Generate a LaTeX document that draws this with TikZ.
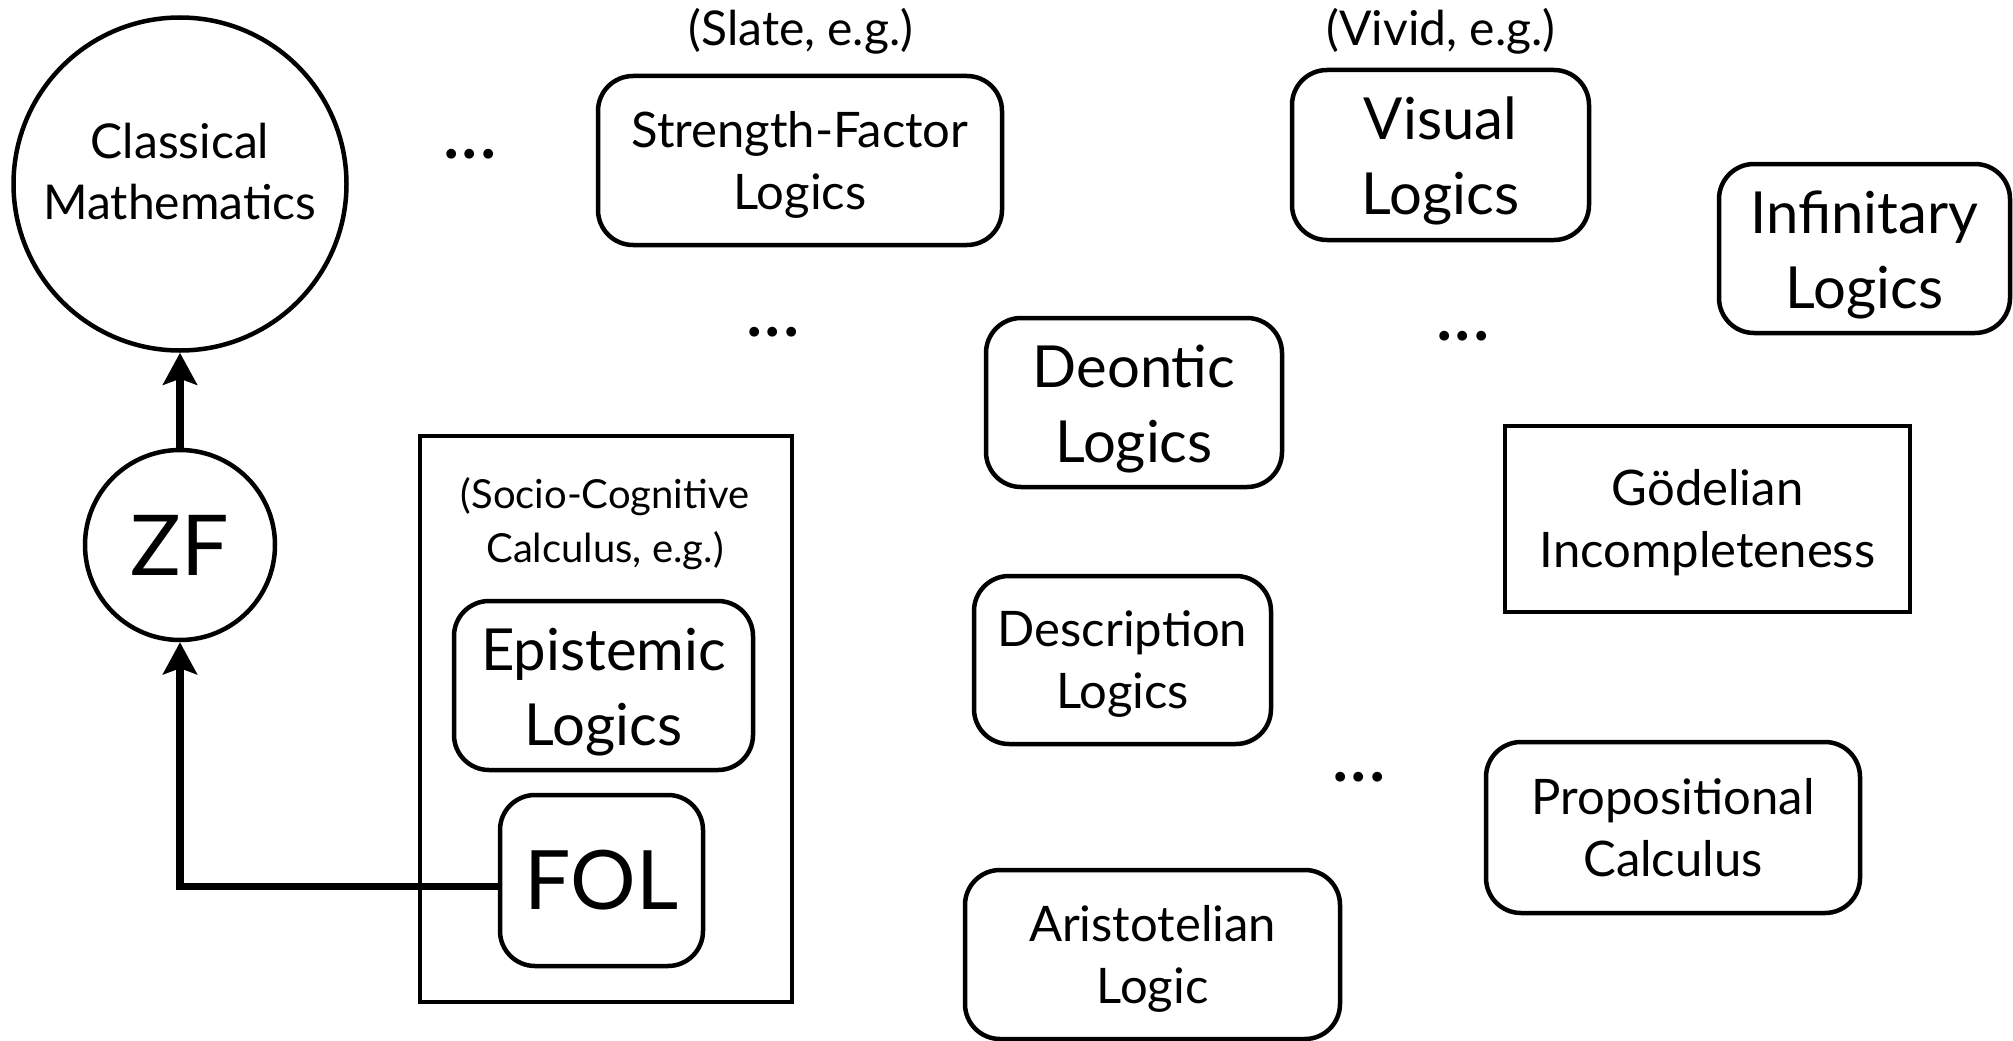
\documentclass[tikz,border=0pt]{standalone}
\usepackage{fontspec}
\setmainfont{Lato}
\usetikzlibrary{arrows.meta,calc}
\begin{document}
\begin{tikzpicture}[x=1pt,y=-1pt,
  rbox/.style={draw, line width=4.5pt, rounded corners=35pt, align=center, inner sep=0pt},
  sbox/.style={draw, line width=4.5pt, align=center, inner sep=0pt},
  circ/.style={draw, circle, line width=4.5pt, align=center, inner sep=0pt},
  smalltxt/.style={font=\fontsize{49}{62}\selectfont, text height=107pt, text depth=10pt},
  largetxt/.style={font=\fontsize{58}{75}\selectfont, text height=129pt, text depth=10pt},
  arr/.style={line width=7.5pt, -{Stealth[length=32pt,width=34pt,inset=6pt]}},
  dotstxt/.style={font=\fontsize{78}{78}\selectfont, inner sep=0pt},
  notetxt/.style={font=\fontsize{48}{58}\selectfont, inner sep=0pt, align=center}
]
\useasboundingbox (0,0) rectangle (2013,1041);

% left column
\node[circ, minimum size=333pt, font=\fontsize{48}{61}\selectfont, text height=80pt, text depth=10pt] (CM) at (180,184) {Classical\\Mathematics};
\node[circ, minimum size=190pt, font=\fontsize{84}{84}\selectfont] (ZF) at (180,545) {ZF};

% socio-cognitive calculus frame
\node[sbox, minimum width=372pt, minimum height=566pt] (SCC) at (606,719) {};
\node[font=\fontsize{40}{54}\selectfont, align=center, inner sep=0pt, text height=64pt, text depth=10pt] (SCCl) at (605,535) {(Socio-Cognitive\\Calculus, e.g.)};
\node[rbox, largetxt, minimum width=299pt, minimum height=169pt] (EL) at (603.5,685.5) {Epistemic\\Logics};
\node[rbox, font=\fontsize{82}{82}\selectfont, minimum width=203pt, minimum height=171pt] (FOL) at (601.5,880.5) {FOL};

% other logics
\node[notetxt] (slate) at (801,31) {(Slate, e.g.)};
\node[rbox, smalltxt, minimum width=404pt, minimum height=169pt] (SF) at (800,160.5) {Strength-Factor\\Logics};
\node[notetxt] (vivid) at (1441,31) {(Vivid, e.g.)};
\node[rbox, largetxt, minimum width=297pt, minimum height=170pt] (VL) at (1440.5,155) {Visual\\Logics};
\node[rbox, largetxt, minimum width=291pt, minimum height=169pt] (IL) at (1864.5,248.5) {Infinitary\\Logics};
\node[rbox, largetxt, minimum width=296pt, minimum height=169pt] (DL) at (1134,402.5) {Deontic\\Logics};
\node[sbox, smalltxt, minimum width=405pt, minimum height=186pt] (GI) at (1707.5,519) {Gödelian\\Incompleteness};
\node[rbox, smalltxt, minimum width=297pt, minimum height=168pt] (DesL) at (1122.5,660) {Description\\Logics};
\node[rbox, smalltxt, minimum width=374pt, minimum height=171pt] (PC) at (1673,827.5) {Propositional\\Calculus};
\node[rbox, smalltxt, minimum width=375pt, minimum height=169pt] (AL) at (1152.5,954.5) {Aristotelian\\Logic};

% ellipses
\node[dotstxt] (d1) at (470,154) {...};
\node[dotstxt] (d2) at (773,332) {...};
\node[dotstxt] (d3) at (1463,336) {...};
\node[dotstxt] (d4) at (1359,777) {...};

% connectors
\draw[arr] (ZF) -- (CM);
\draw[arr] ($(FOL.west)+(0,6)$) -| (ZF.south);
\end{tikzpicture}
\end{document}
